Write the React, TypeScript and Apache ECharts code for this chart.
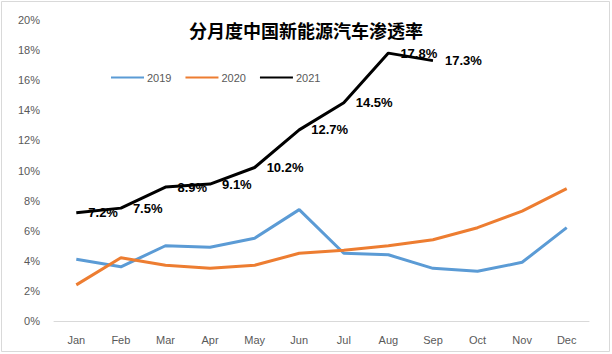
import React, { useEffect, useRef } from "react";
import * as echarts from "echarts";

const months = ["Jan", "Feb", "Mar", "Apr", "May", "Jun", "Jul", "Aug", "Sep", "Oct", "Nov", "Dec"];
const s2019 = [4.1, 3.6, 5.0, 4.9, 5.5, 7.4, 4.5, 4.4, 3.5, 3.3, 3.9, 6.2];
const s2020 = [2.4, 4.2, 3.7, 3.5, 3.7, 4.5, 4.7, 5.0, 5.4, 6.2, 7.3, 8.8];
const s2021 = [7.2, 7.5, 8.9, 9.1, 10.2, 12.7, 14.5, 17.8, 17.3];
const titleText = "分月度中国新能源汽车渗透率";

export default function App() {
  const ref = useRef<HTMLDivElement>(null);
  useEffect(() => {
    if (!ref.current) return;
    const chart = echarts.init(ref.current, undefined, { renderer: "svg" });
    const labelFont = "'Liberation Sans Narrow', 'Liberation Sans', Arial, sans-serif";
    chart.setOption({
      animation: false,
      backgroundColor: "#fff",
      title: {
        text: titleText,
        left: "center",
        top: 16,
        textStyle: { fontFamily: "'Noto Sans CJK SC', sans-serif", fontSize: 18, fontWeight: "bold", color: "#000" },
      },
      legend: {
        top: 67,
        left: 106,
        itemWidth: 33,
        itemHeight: 10,
        itemGap: 14,
        icon: "path://M0,4L33,4L33,6L0,6Z",
        textStyle: { color: "#595959", fontSize: 11, fontFamily: "'Liberation Sans', sans-serif", padding: [0, 0, 0, -2] },
        data: ["2019", "2020", "2021"],
      },
      grid: { left: 54, right: 23, top: 20, bottom: 33 },
      xAxis: {
        type: "category",
        data: months,
        boundaryGap: true,
        axisLine: { lineStyle: { color: "#d9d9d9" } },
        axisTick: { show: false },
        axisLabel: { color: "#595959", fontSize: 11, margin: 13, fontFamily: "'Liberation Sans', sans-serif" },
      },
      yAxis: {
        type: "value",
        min: 0,
        max: 20,
        interval: 2,
        axisLine: { show: false },
        axisTick: { show: false },
        splitLine: { show: false },
        axisLabel: { color: "#595959", fontSize: 11, margin: 14, formatter: "{value}%", fontFamily: "'Liberation Sans', sans-serif" },
      },
      series: [
        { name: "2019", type: "line", data: s2019, symbol: "none", lineStyle: { color: "#5B9BD5", width: 3 }, itemStyle: { color: "#5B9BD5" } },
        { name: "2020", type: "line", data: s2020, symbol: "none", lineStyle: { color: "#ED7D31", width: 3 }, itemStyle: { color: "#ED7D31" } },
        {
          name: "2021",
          type: "line",
          data: s2021,
          symbol: "circle",
          symbolSize: 0.01,
          showSymbol: true,
          lineStyle: { color: "#000", width: 3 },
          itemStyle: { color: "#000" },
          label: {
            show: true,
            position: "right",
            distance: 12,
            formatter: (p: any) => p.value.toFixed(1) + "%",
            fontFamily: labelFont,
            fontSize: 13,
            fontWeight: "bold",
            color: "#000",
          },
        },
      ],
      graphic: [
        { type: "rect", shape: { x: 1.5, y: 1.5, width: 608, height: 350 }, style: { fill: "none", stroke: "#d9d9d9", lineWidth: 1 }, silent: true },
      ],
    });
    return () => chart.dispose();
  }, []);
  return <div ref={ref} style={{ width: 612, height: 354, position: "absolute", left: 0, top: 0 }} />;
}
